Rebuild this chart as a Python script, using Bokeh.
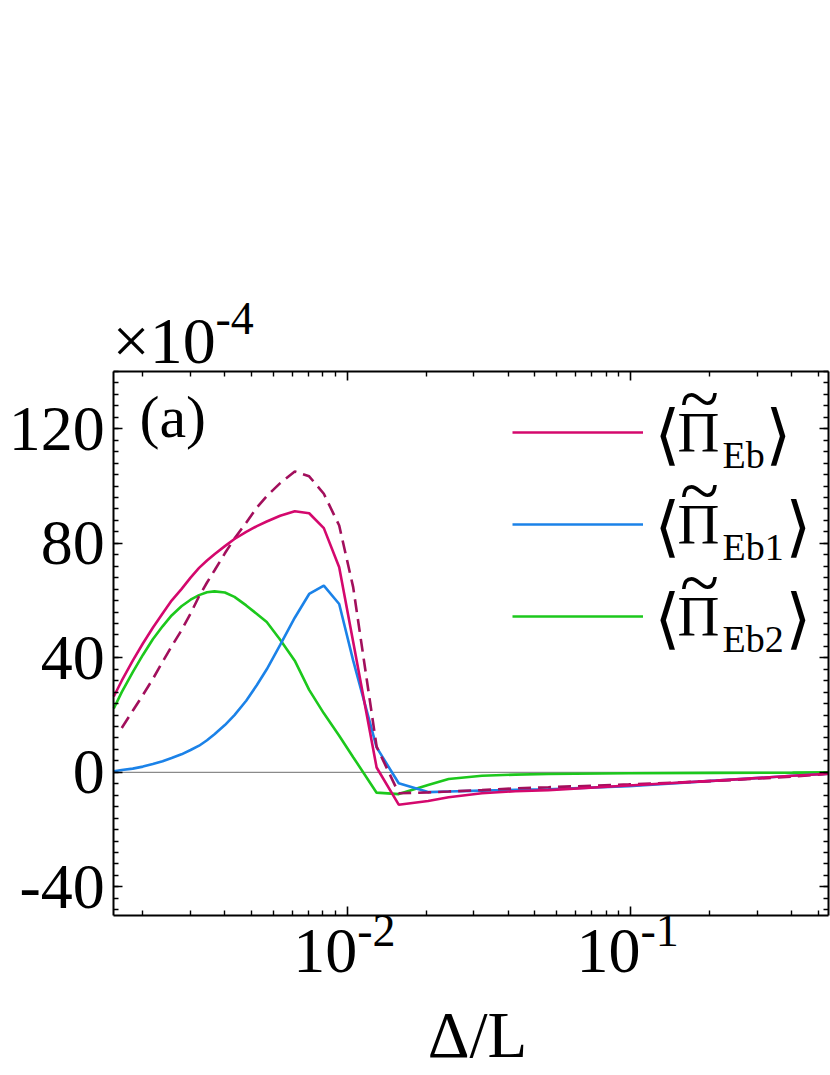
import math
from bokeh.plotting import figure
from bokeh.models import (FixedTicker, LogAxis, LinearAxis, Label,
                          Legend, LegendItem)
from bokeh.embed import file_html
from bokeh.resources import INLINE

# ---------------- data ----------------
x_delta = [0.0015, 0.0016, 0.00175, 0.0019, 0.00206, 0.00223, 0.0024, 0.0026,
           0.0028, 0.003, 0.0032, 0.0034, 0.0037, 0.004, 0.0044, 0.0048,
           0.0052, 0.0058, 0.00653, 0.00734, 0.00827, 0.00937, 0.0105,
           0.0127, 0.0152, 0.0193, 0.0228, 0.0299, 0.0392, 0.0513, 0.0986,
           0.2, 0.373, 0.5]

pi_eb = [26.5, 32, 39, 45, 50.5, 55.5, 60, 64, 68, 71.4, 74, 76.2, 79, 81.5,
         84, 86, 87.6, 89.6, 91.2, 90.5, 85.3, 71.6, 45.5, 1.7, -11.3, -10.0,
         -8.7, -7.3, -6.6, -6.2, -4.6, -2.9, -1.2, -0.5]

pi_eb1 = [0.4, 0.8, 1.3, 2.0, 2.9, 3.9, 5.0, 6.3, 7.8, 9.3, 11.2, 13.3, 16.5,
          20, 25, 30.5, 36, 44.5, 54, 62.3, 65.2, 58.8, 39, 8.7, -3.8, -6.9,
          -6.7, -6.4, -6.1, -5.9, -4.8, -2.9, -1.2, -0.5]

pi_eb2 = [22.3, 28, 35, 41, 46.5, 51, 54.8, 58, 60.3, 61.9, 62.9, 63.2, 62.8,
          61.3, 58.3, 55.3, 52.5, 46.3, 39, 28.8, 20.6, 12.8, 5.3, -7.1, -7.6,
          -4.4, -2.3, -1.2, -0.8, -0.6, -0.3, -0.2, -0.1, 0]

x_dash = [0.0016, 0.00175, 0.0019, 0.00206, 0.00223, 0.0024, 0.0026, 0.0028,
          0.003, 0.0032, 0.0034, 0.0037, 0.004, 0.0044, 0.0048, 0.0052,
          0.0058, 0.00653, 0.00734, 0.00827, 0.00937, 0.0105, 0.0127, 0.0152,
          0.0193, 0.0228, 0.0299, 0.0392, 0.0513, 0.0986, 0.2, 0.373, 0.5]

pi_eb_dash = [15.5, 21.5, 27, 32.6, 38.6, 44, 49.6, 55.5, 61.5, 66.3, 70.5,
              76.5, 81.7, 87.2, 92.5, 96.5, 101, 105.1, 103.4, 97.3, 86.2,
              64.6, 9, -7.3, -7.0, -6.7, -6.2, -5.6, -5.2, -4.2, -3.0, -1.5,
              -0.5]

x_limits = [0.0015, 0.5]
y_limits = [-50, 140]
x_major_ticks = [0.01, 0.1]
x_tick_exponents = ["-2", "-1"]
x_minor_ticks = [0.0019, 0.0028, 0.0037, 0.0046, 0.0055, 0.0064, 0.0073,
                 0.0082, 0.0091, 0.019, 0.028, 0.037, 0.046, 0.055, 0.064,
                 0.073, 0.082, 0.091, 0.19, 0.28, 0.37, 0.46]
y_major_ticks = [-40, 0, 40, 80, 120]
y_minor_ticks = list(range(-48, 141, 4))

legend_subscripts = ["Eb", "Eb1", "Eb2"]

# ---------------- layout ----------------
W, H = 830, 1075
BOX_L, BOX_R, BOX_T, BOX_B = 113.3, 828.0, 371.0, 915.0   # plot box in page px

lx0, lx1 = math.log10(x_limits[0]), math.log10(x_limits[1])
px_per_dec = (BOX_R - BOX_L) / (lx1 - lx0)
x_start = 10 ** (lx0 - BOX_L / px_per_dec)
x_end = 10 ** (lx1 + (W - BOX_R) / px_per_dec)
px_per_unit = (BOX_B - BOX_T) / (y_limits[1] - y_limits[0])
y_end = y_limits[1] + BOX_T / px_per_unit
y_start = y_limits[0] - (H - BOX_B) / px_per_unit

SERIF = "Liberation Serif"
C_EB = "#D4086D"
C_EB1 = "#1B82E8"
C_EB2 = "#1CC81C"
C_DASH = "#A20F5C"
LW = 2.6

p = figure(width=W, height=H, x_axis_type="log",
           x_range=(x_start, x_end), y_range=(y_start, y_end),
           output_backend="svg", toolbar_location=None,
           min_border=0, min_border_left=0, min_border_right=0,
           min_border_top=0, min_border_bottom=0)
p.background_fill_color = "white"
p.border_fill_color = "white"
p.outline_line_color = None
p.xgrid.visible = False
p.ygrid.visible = False

xt = FixedTicker(ticks=x_major_ticks, minor_ticks=x_minor_ticks)
yt = FixedTicker(ticks=y_major_ticks, minor_ticks=y_minor_ticks)


def style_axis(ax, show_labels=False):
    ax.axis_line_color = "black"
    ax.axis_line_width = 2
    ax.major_tick_in = 9
    ax.major_tick_out = 0
    ax.minor_tick_in = 5
    ax.minor_tick_out = 0
    ax.major_tick_line_width = 1.6
    ax.minor_tick_line_width = 1.4
    ax.major_tick_line_color = "black"
    ax.minor_tick_line_color = "black"
    if show_labels:
        ax.major_label_text_font = SERIF
        ax.major_label_text_font_size = "64px"
        ax.major_label_text_color = "black"
        ax.major_label_standoff = 9
    else:
        ax.major_label_text_font_size = "1px"
        ax.major_label_text_alpha = 0
        ax.major_label_standoff = 0


bottom_axis = p.xaxis[0]
bottom_axis.ticker = xt
bottom_axis.fixed_location = y_limits[0]
bottom_axis.bounds = tuple(x_limits)
style_axis(bottom_axis)

left_axis = p.yaxis[0]
left_axis.ticker = yt
left_axis.fixed_location = x_limits[0]
left_axis.bounds = tuple(y_limits)
left_axis.major_label_overrides = {-40: "-40"}
style_axis(left_axis, show_labels=True)

top_axis = LogAxis(ticker=xt, fixed_location=y_limits[1], bounds=tuple(x_limits))
style_axis(top_axis)
p.add_layout(top_axis, "above")
right_axis = LinearAxis(ticker=yt, fixed_location=x_limits[1], bounds=tuple(y_limits))
style_axis(right_axis)
p.add_layout(right_axis, "right")

# zero reference line across the plot box
p.segment(x0=[x_limits[0]], x1=[x_limits[1]], y0=[0], y1=[0],
          line_color="#8a8a8a", line_width=1.2)

r_eb2 = p.line(x_delta, pi_eb2, line_color=C_EB2, line_width=LW)
r_eb1 = p.line(x_delta, pi_eb1, line_color=C_EB1, line_width=LW)
r_dash = p.line(x_dash, pi_eb_dash, line_color=C_DASH, line_width=LW,
                line_dash="13 7")
r_eb = p.line(x_delta, pi_eb, line_color=C_EB, line_width=LW)

# legend: line samples from Bokeh's legend, labels composed below
legend = Legend(items=[LegendItem(label=" ", renderers=[r]) for r in (r_eb, r_eb1, r_eb2)],
                location=(512, H - 626), orientation="vertical",
                glyph_width=131, glyph_height=20, label_height=20,
                label_width=1, label_standoff=0, spacing=72, padding=0,
                margin=0, border_line_alpha=0, background_fill_alpha=0,
                label_text_font_size="2px")
p.add_layout(legend)


def lab(text, x, baseline, size, align="left", font=SERIF, x_units="screen",
        x_offset=0, k=0.34):
    # baseline is given in page pixels from the top; anchor at text middle
    y_mid = baseline - k * size
    p.add_layout(Label(x=x, y=H - y_mid, x_units=x_units, y_units="screen",
                       x_offset=x_offset, text=text, text_font=font,
                       text_font_size=f"{size}px", text_align=align,
                       text_baseline="middle", text_color="black"))


line_end = 512 + 131
for i, sub in enumerate(legend_subscripts):
    base = 452 + 92 * i
    # brackets are anchored on their vertical centre
    lab("\u27e8", line_end + 11, base - 18 + 0.35 * 66, 66, font="DejaVu Sans", k=0.35)
    lab("\u03a0", line_end + 34, base, 58)
    lab("~", line_end + 56, base - 53.5 + 0.34 * 72, 72, align="center")
    lab(sub, line_end + 79, base + 15, 38)
    close_x = line_end + (122 if sub == "Eb" else 142)
    lab("\u27e9", close_x, base - 18 + 0.35 * 66, 66, font="DejaVu Sans", k=0.35)

# panel tag and axis multiplier
lab("(a)", 139, 437, 60)
lab("\u00d710", 112, 362, 66)
lab("-4", 215, 334, 46)

# x tick labels with superscripts
for t, e in zip(x_major_ticks, x_tick_exponents):
    lab("10", t, 972, 64, align="right", x_units="data", x_offset=10)
    lab(e, t, 946, 46, align="left", x_units="data", x_offset=10)

# x-axis title
lab("\u0394/L", 477, 1057, 65, align="center")

open("out.html", "w").write(file_html(p, INLINE))
